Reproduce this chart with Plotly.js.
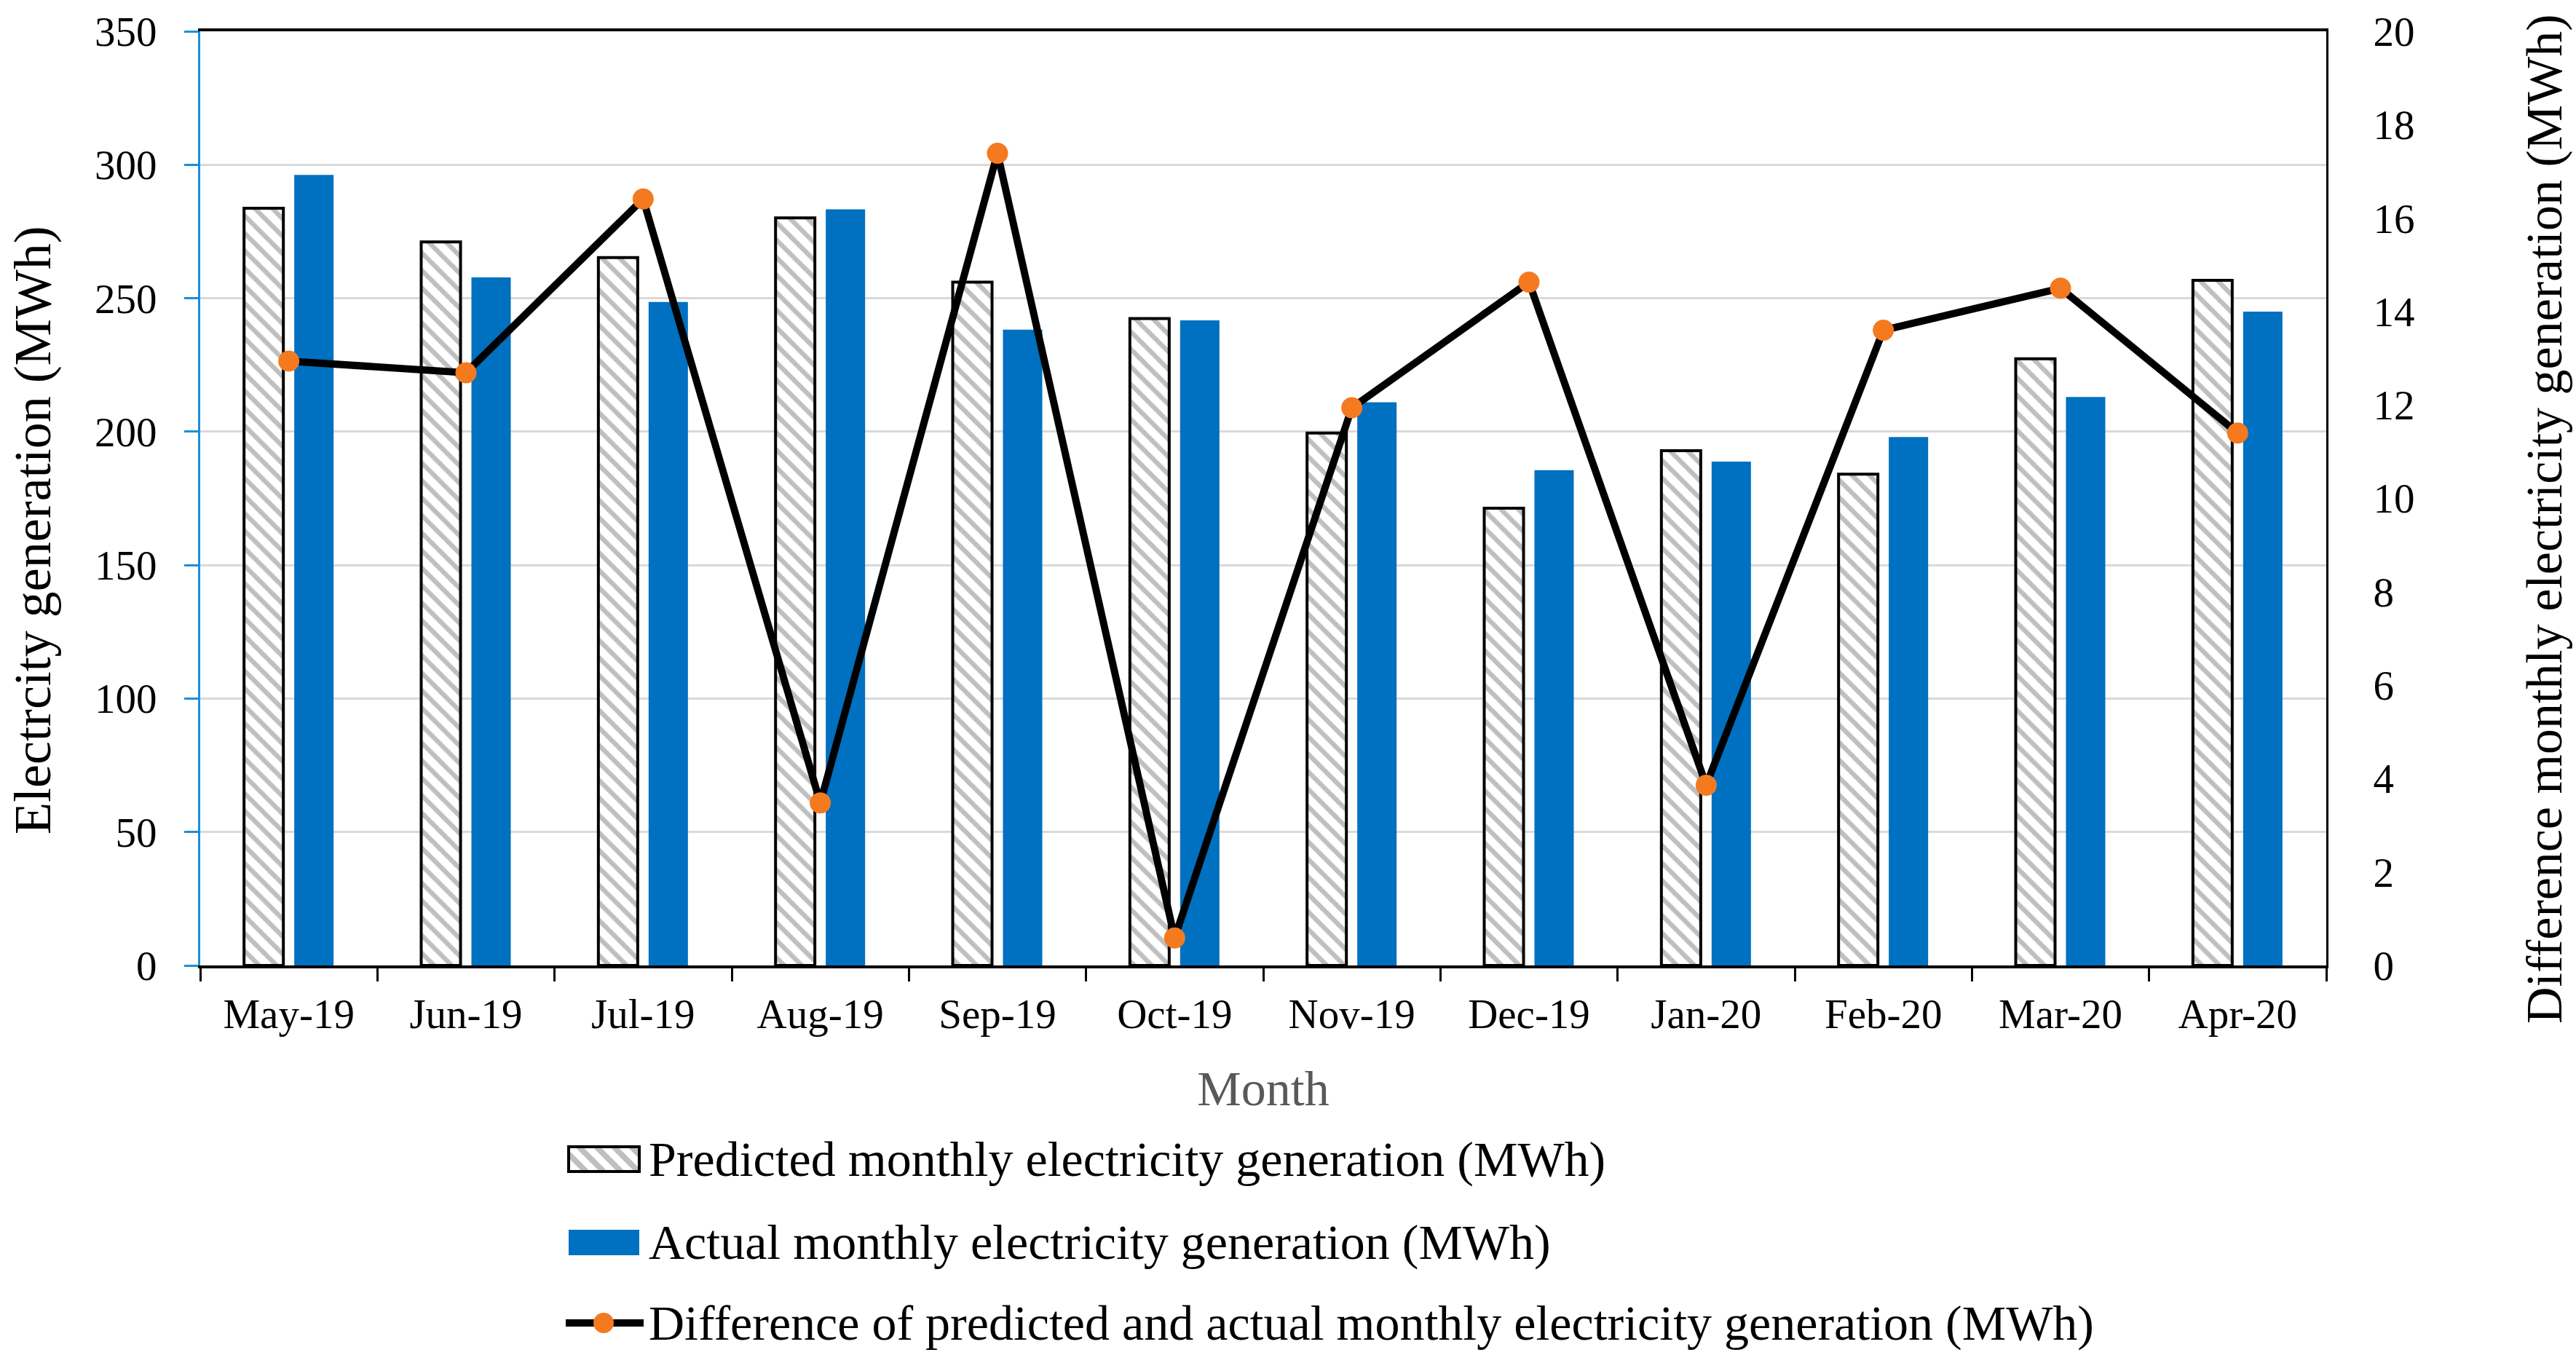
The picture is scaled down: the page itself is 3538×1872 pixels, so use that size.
<!DOCTYPE html>
<html>
<head>
<meta charset="utf-8">
<script src="https://cdn.plot.ly/plotly-3.0.1.min.js"></script>
<style>html,body{margin:0;padding:0;background:#fff;}#chart{width:3538px;height:1872px;}</style>
</head>
<body>
<div id="chart"></div>
<script>
// ---- data ----
const months = ["May-19","Jun-19","Jul-19","Aug-19","Sep-19","Oct-19","Nov-19","Dec-19","Jan-20","Feb-20","Mar-20","Apr-20"];
const predicted = [283.7, 271.1, 265.2, 280.1, 256.0, 242.4, 199.5, 171.3, 192.9, 184.1, 227.3, 256.7];
const actual = [296.2, 257.8, 248.6, 283.3, 238.2, 241.7, 211.0, 185.6, 188.8, 198.0, 213.0, 245.0];
const difference = [12.94, 12.69, 16.41, 3.48, 17.39, 0.59, 11.94, 14.63, 3.86, 13.60, 14.50, 11.40];
const legendLabels = [
  "Predicted monthly electricity generation (MWh)",
  "Actual monthly electricity generation (MWh)",
  "Difference of predicted and actual monthly electricity generation (MWh)"
];
const leftTitle = "Electrcity generation (MWh)";
const rightTitle = "Difference monthly electricity generation (MWh)";
const xTitle = "Month";

// ---- layout geometry (pixels) ----
const W = 3538, H = 1872;
const L = 275, R = 3195, T = 43, B = 1326;
const FONT = "Liberation Serif, Times New Roman, serif";
const BLUE = "#0070c0", ORANGE = "#f47a20", HATCH = "#bfbfbf";
const px = x => (x - L) / (R - L);
const py = y => (B - y) / (B - T);

const traces = [
  {
    type: "bar", x: months, y: predicted, name: legendLabels[0], showlegend: false,
    marker: { color: "#ffffff", line: { color: "#000000", width: 4 },
      pattern: { shape: "\\", fgcolor: HATCH, bgcolor: "#ffffff", size: 17, solidity: 0.38 } }
  },
  {
    type: "bar", x: months, y: actual, name: legendLabels[1], showlegend: false,
    marker: { color: BLUE, line: { width: 0 } }
  },
  {
    type: "scatter", mode: "lines+markers", x: months, y: difference, yaxis: "y2",
    name: legendLabels[2], showlegend: false, cliponaxis: false,
    line: { color: "#000000", width: 10 },
    marker: { color: ORANGE, size: 29, line: { width: 0 } }
  }
];

// ---- custom legend (swatches as shapes, labels as text) ----
const shapes = [];
const annotations = [];
const swX0 = 781, swX1 = 878;
const r1y0 = 1575, r1y1 = 1609;
(function () {
  const w = swX1 - swX0, h = r1y1 - r1y0, s = 24;
  for (let k = -h; k < w; k += s) {
    const u1 = Math.max(0, k), u2 = Math.min(w, h + k);
    if (u2 <= u1) continue;
    shapes.push({ type: "line", xref: "paper", yref: "paper",
      x0: px(swX0 + u1), y0: py(r1y0 + (u1 - k)), x1: px(swX0 + u2), y1: py(r1y0 + (u2 - k)),
      line: { color: HATCH, width: 8 } });
  }
})();
shapes.push({ type: "rect", xref: "paper", yref: "paper",
  x0: px(swX0), x1: px(swX1), y0: py(r1y1), y1: py(r1y0),
  line: { color: "#000000", width: 4 }, fillcolor: "rgba(0,0,0,0)" });
const r2y0 = 1689, r2y1 = 1724;
shapes.push({ type: "rect", xref: "paper", yref: "paper",
  x0: px(swX0), x1: px(swX1), y0: py(r2y1), y1: py(r2y0),
  line: { width: 0 }, fillcolor: BLUE });
const r3y = 1817;
shapes.push({ type: "line", xref: "paper", yref: "paper",
  x0: px(777), x1: px(884), y0: py(r3y), y1: py(r3y),
  line: { color: "#000000", width: 10 } });
shapes.push({ type: "circle", xref: "paper", yref: "paper",
  x0: px(829 - 14), x1: px(829 + 14), y0: py(r3y + 14), y1: py(r3y - 14),
  line: { width: 0 }, fillcolor: ORANGE });

const rowCenters = [1592, 1706, 1817];
legendLabels.forEach((t, i) => {
  annotations.push({ xref: "paper", yref: "paper", x: px(889), y: py(rowCenters[i]),
    xanchor: "left", yanchor: "middle", showarrow: false, text: t,
    font: { family: FONT, size: 68, color: "#000000" } });
});

// axis titles placed as rotated text to match the reference position
annotations.push({ xref: "paper", yref: "paper", x: px(45), y: py(728),
  xanchor: "center", yanchor: "middle", showarrow: false, textangle: -90, text: leftTitle,
  font: { family: FONT, size: 72, color: "#000000" } });
annotations.push({ xref: "paper", yref: "paper", x: px(3494), y: py(713),
  xanchor: "center", yanchor: "middle", showarrow: false, textangle: -90, text: rightTitle,
  font: { family: FONT, size: 70, color: "#000000" } });

const layout = {
  width: W, height: H,
  margin: { l: L, r: W - R, t: T, b: H - B, pad: 0 },
  paper_bgcolor: "#ffffff", plot_bgcolor: "#ffffff",
  font: { family: FONT, size: 57, color: "#000000" },
  barmode: "group", bargap: 0.433, bargroupgap: 0.217,
  showlegend: false,
  xaxis: {
    type: "category", range: [-0.5, months.length - 0.5], autorange: false,
    showline: true, linecolor: "#000000", linewidth: 4, mirror: true,
    ticks: "outside", tickson: "boundaries", ticklen: 18, tickwidth: 3, tickcolor: "#000000",
    showgrid: false, zeroline: false,
    tickfont: { family: FONT, size: 57, color: "#000000" },
    ticklabelstandoff: 14,
    title: { text: xTitle, font: { family: FONT, size: 68, color: "#595959" }, standoff: 48 }
  },
  yaxis: {
    range: [0, 350], autorange: false, dtick: 50, tick0: 0,
    showline: true, linecolor: "#1a8fd8", linewidth: 3,
    ticks: "outside", ticklen: 19, tickwidth: 3, tickcolor: "#1a8fd8",
    showgrid: true, gridcolor: "#d9d9d9", gridwidth: 3, zeroline: false,
    tickfont: { family: FONT, size: 57, color: "#000000" },
    ticklabelstandoff: 26
  },
  yaxis2: {
    overlaying: "y", side: "right", range: [0, 20], autorange: false, dtick: 2, tick0: 0,
    showline: true, linecolor: "#000000", linewidth: 3,
    ticks: "", showgrid: false, zeroline: false,
    tickfont: { family: FONT, size: 57, color: "#000000" },
    ticklabelstandoff: 50
  },
  shapes: shapes,
  annotations: annotations
};

Plotly.newPlot("chart", traces, layout, { staticPlot: true, displayModeBar: false });
</script>
</body>
</html>
